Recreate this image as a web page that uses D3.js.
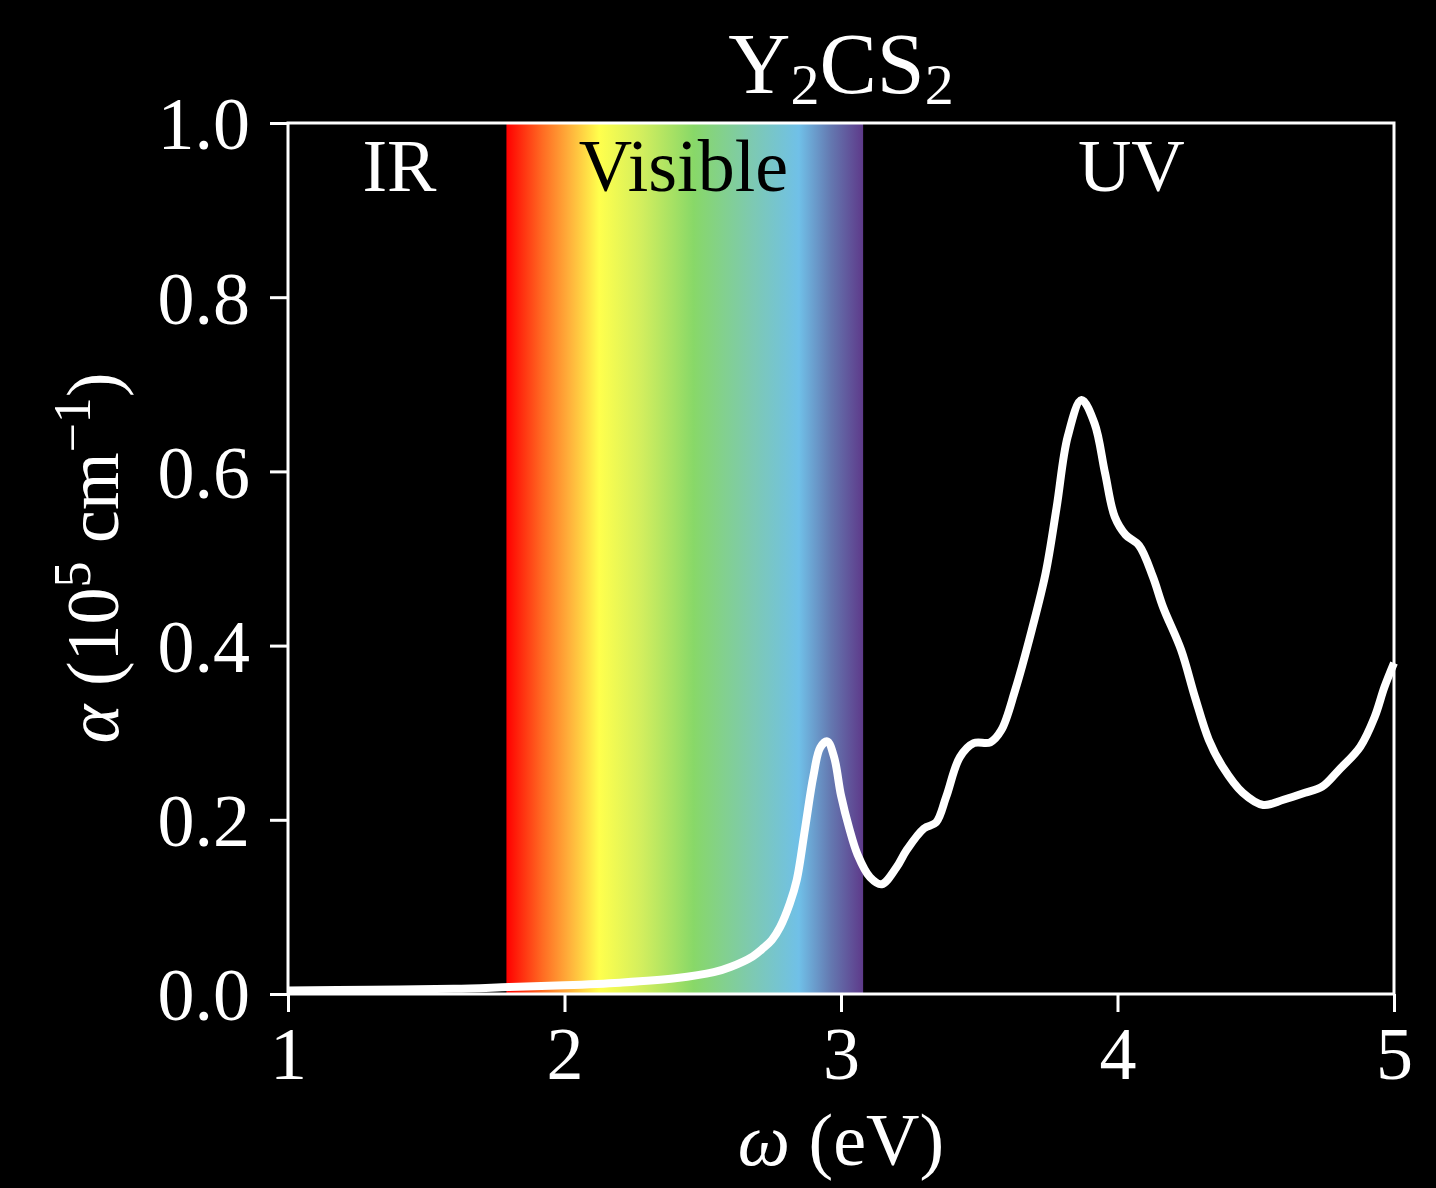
<!DOCTYPE html>
<html>
<head>
<meta charset="utf-8">
<script src="https://d3js.org/d3.v7.min.js"></script>
<style>
  body { margin: 0; background: #000; }
  text { font-family: "Liberation Serif", "DejaVu Serif", serif; fill: #fff; }
</style>
</head>
<body>
<script>
// photon energy (eV) and absorption coefficient (10^5 cm^-1)
var omega = [1.0, 1.3, 1.6, 1.8, 2.0, 2.2, 2.4, 2.54, 2.6, 2.68, 2.72, 2.75, 2.78, 2.815,
  2.84, 2.87, 2.9, 2.925, 2.95, 2.975, 3.0, 3.03, 3.06, 3.105, 3.147, 3.2, 3.237, 3.3,
  3.344, 3.38, 3.43, 3.48, 3.54, 3.58, 3.63, 3.69, 3.74, 3.78, 3.82, 3.87, 3.917, 3.955,
  3.99, 4.03, 4.078, 4.128, 4.165, 4.23, 4.28, 4.33, 4.38, 4.453, 4.527, 4.6, 4.678,
  4.74, 4.8, 4.878, 4.93, 4.965, 5.0];
var alpha = [0.004, 0.005, 0.006, 0.008, 0.010, 0.013, 0.018, 0.025, 0.031, 0.043, 0.053, 0.062, 0.077, 0.104,
  0.131, 0.19, 0.25, 0.283, 0.29, 0.272, 0.228, 0.19, 0.16, 0.134, 0.126, 0.145, 0.165, 0.19,
  0.197, 0.226, 0.272, 0.288, 0.289, 0.303, 0.349, 0.418, 0.483, 0.559, 0.64, 0.682, 0.655, 0.598,
  0.548, 0.527, 0.515, 0.479, 0.444, 0.395, 0.341, 0.292, 0.261, 0.231, 0.217, 0.223, 0.231,
  0.238, 0.257, 0.284, 0.318, 0.352, 0.38];

var visibleRange = [1.79, 3.08];
var xTicks = [1, 2, 3, 4, 5];
var yTicks = [0.0, 0.2, 0.4, 0.6, 0.8, 1.0];
var regionLabels = ["IR", "Visible", "UV"];
var regionCenters = [1.403, 2.43, 4.05];

var W = 1436, H = 1188;
var m = {left: 288, top: 123, right: 42, bottom: 194};
var w = W - m.left - m.right, h = H - m.top - m.bottom;

var svg = d3.select("body").append("svg")
  .attr("width", W).attr("height", H)
  .style("background", "#000");

var x = d3.scaleLinear().domain([1, 5]).range([0, w]);
var y = d3.scaleLinear().domain([0, 1]).range([h, 0]);

// rainbow gradient for the visible band
var grad = svg.append("defs").append("linearGradient")
  .attr("id", "rainbow").attr("x1", "0%").attr("x2", "100%");
[[0, "#ff0000"], [0.1, "#ff6a22"], [0.18, "#ffb43c"], [0.26, "#ffff4d"],
 [0.38, "#d2ee5e"], [0.525, "#88d868"], [0.68, "#7ecaae"], [0.82, "#70c0e8"],
 [0.91, "#6478b0"], [1, "#5e3a8a"]].forEach(function(s) {
  grad.append("stop").attr("offset", s[0]).attr("stop-color", s[1]);
});

var g = svg.append("g").attr("transform", "translate(" + m.left + "," + m.top + ")");

g.append("rect")
  .attr("x", x(visibleRange[0]))
  .attr("width", x(visibleRange[1]) - x(visibleRange[0]))
  .attr("y", 0).attr("height", h)
  .attr("fill", "url(#rainbow)");

// region labels
g.selectAll(".region").data(regionLabels).enter().append("text")
  .attr("class", "region")
  .attr("x", function(d, i) { return x(regionCenters[i]); })
  .attr("y", 68)
  .attr("text-anchor", "middle")
  .attr("font-size", 74)
  .style("fill", function(d) { return d === "Visible" ? "#000" : "#fff"; })
  .text(function(d) { return d; });

// curve
var line = d3.line()
  .x(function(d) { return x(d[0]); })
  .y(function(d) { return y(d[1]); })
  .curve(d3.curveCatmullRom.alpha(0.5));

g.append("path")
  .datum(d3.zip(omega, alpha))
  .attr("d", line)
  .attr("fill", "none")
  .attr("stroke", "#fff")
  .attr("stroke-width", 8)
  .attr("stroke-linejoin", "round");

// axes
var xAxis = g.append("g").attr("transform", "translate(0," + h + ")")
  .call(d3.axisBottom(x).tickValues(xTicks).tickFormat(d3.format("d")).tickSize(18).tickPadding(14));
var yAxis = g.append("g")
  .call(d3.axisLeft(y).tickValues(yTicks).tickFormat(d3.format(".1f")).tickSize(18).tickPadding(20));

[xAxis, yAxis].forEach(function(a) {
  a.select(".domain").remove();
  a.selectAll("line").attr("stroke", "#fff").attr("stroke-width", 3);
  a.selectAll("text").attr("font-size", 74).attr("fill", "#fff")
    .style("font-family", "Liberation Serif");
});
xAxis.selectAll("text").attr("dy", "0.71em");
yAxis.selectAll("text").attr("dy", "0.35em");

// frame
g.append("rect").attr("width", w).attr("height", h)
  .attr("fill", "none").attr("stroke", "#fff").attr("stroke-width", 3);

// title
var title = svg.append("text")
  .attr("x", m.left + w / 2).attr("y", 93)
  .attr("text-anchor", "middle")
  .attr("font-size", 86);
title.append("tspan").text("Y");
title.append("tspan").attr("font-size", 58).attr("dy", 11).text("2");
title.append("tspan").attr("dy", -11).text("CS");
title.append("tspan").attr("font-size", 58).attr("dy", 11).text("2");

// x label
var xl = svg.append("text")
  .attr("x", m.left + w / 2).attr("y", 1165)
  .attr("text-anchor", "middle")
  .attr("font-size", 74);
xl.append("tspan").attr("font-style", "italic").text("ω");
xl.append("tspan").text(" (eV)");

// y label
var yl = svg.append("text")
  .attr("transform", "translate(118," + 558 + ") rotate(-90)")
  .attr("text-anchor", "middle")
  .attr("font-size", 74);
yl.append("tspan").attr("font-style", "italic").text("α");
yl.append("tspan").text(" (10");
yl.append("tspan").attr("font-size", 52).attr("dy", -28).text("5");
yl.append("tspan").attr("dy", 28).text(" cm");
yl.append("tspan").attr("font-size", 52).attr("dy", -28).text("−1");
yl.append("tspan").attr("dy", 28).text(")");
</script>
</body>
</html>
